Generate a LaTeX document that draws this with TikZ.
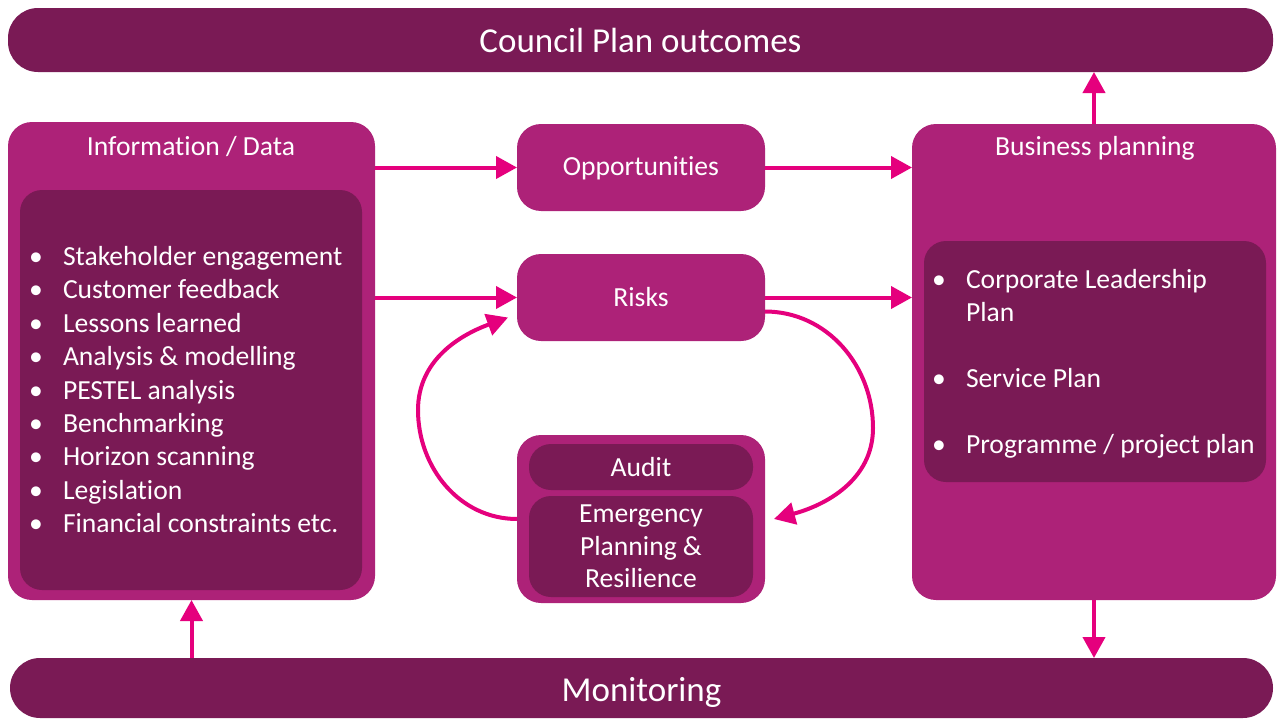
\documentclass[tikz,border=0pt]{standalone}
\usepackage{fontspec}
\setmainfont{Carlito}[Ligatures=NoCommon]
\usetikzlibrary{arrows.meta}
\definecolor{plumdark}{HTML}{7A1A55}
\definecolor{plummid}{HTML}{AD2278}
\definecolor{linkpink}{HTML}{E5007D}
\tikzset{
    every node/.style={align=center,text=white,inner sep=0pt,outer sep=0pt,},
    bar/.style={fill=plumdark,rectangle,rounded corners=30pt,anchor=north west,font=\fontsize{35}{40}\selectfont,},
    panel/.style={fill=plummid,rectangle,rounded corners=24pt,anchor=north west,},
    inset/.style={fill=plumdark,rectangle,rounded corners=22pt,anchor=north west,},
    body/.style={font=\fontsize{27.6}{32.7}\selectfont,},
    item/.style={body,anchor=west,text height=20pt,text depth=7pt,},
    link/.style={draw=linkpink,line width=4pt,-{Triangle[length=21pt,width=22pt]},},
}

\begin{document}
\begin{tikzpicture}[x=1pt,y=-1pt]
                \useasboundingbox (0,0) rectangle (1277,720);

                \node[bar,minimum width=1265pt,minimum height=64pt] (council) at (8,8) {Council Plan outcomes};
                \node[bar,minimum width=1263pt,minimum height=60pt,text height=27pt,text depth=0pt] (monitor) at (10,658) {Monitoring};

                % left panel
                \node[panel,minimum width=367pt,minimum height=478pt] (info) at (8,122) {};
                \node[inset,minimum width=342pt,minimum height=400pt] (infoin) at (20,190) {};
                \node[body] (infohead) at (191,147) {Information / Data};
                \foreach \txt [count=\i] in {Stakeholder engagement,Customer feedback,Lessons learned,Analysis \& modelling,PESTEL analysis,Benchmarking,Horizon scanning,Legislation,Financial constraints etc.}
                {
                    \node[item] (infobul\i) at (29,{259+33.4*(\i-1)}) {\textbullet};
                    \node[item] (infoitem\i) at (63,{259+33.4*(\i-1)}) {\txt};
                }

                % middle boxes
                \node[panel,body,minimum width=248pt,minimum height=87pt,text height=20pt,text depth=4pt] (opp) at (517,124) {Opportunities};
                \node[panel,body,minimum width=248pt,minimum height=87pt] (risks) at (517,254) {Risks};
                \node[panel,minimum width=248pt,minimum height=168pt] (auditgrp) at (517,435) {};
                \node[inset,body,minimum width=224pt,minimum height=46pt] (audit) at (529,444) {Audit};
                \node[inset,body,minimum width=224pt,minimum height=101pt] (ep) at (529,496) {Emergency\\Planning \&\\Resilience};

                % right panel
                \node[panel,minimum width=364pt,minimum height=476pt] (biz) at (912,124) {};
                \node[inset,minimum width=342pt,minimum height=241pt] (bizin) at (924,241) {};
                \node[body] (bizhead) at (1095,148) {Business planning};
                \node[item] (bizbul1) at (932,282) {\textbullet};
                \node[item] (bizitem1) at (966,282) {Corporate Leadership};
                \node[item] (bizitem1b) at (966,315) {Plan};
                \node[item] (bizbul2) at (932,381) {\textbullet};
                \node[item] (bizitem2) at (966,381) {Service Plan};
                \node[item] (bizbul3) at (932,447) {\textbullet};
                \node[item] (bizitem3) at (966,447) {Programme / project plan};

                \coordinate (rbend) at (873,428);
                \coordinate (lbend) at (418,410);

                \draw[link] (info.east |- opp.west) -- (opp.west);
                \draw[link] (info.east |- risks.west) -- (risks.west);
                \draw[link] (opp.east) -- (biz.west |- opp.east);
                \draw[link] (risks.east) -- (biz.west |- risks.east);
                \draw[link] (biz.north) -- (biz.north |- council.south);
                \draw[link] (biz.south) -- (biz.south |- monitor.north);
                \draw[link] (info.south |- monitor.north) -- (info.south);

                \draw[link] ([yshift=-14pt]risks.east) to[out=0,in=90] (rbend) to[out=-90,in=15] ([xshift=9pt]auditgrp.east);
                \draw[link] (auditgrp.west) to[out=180,in=-90] (lbend) to[out=90,in=200] ([xshift=-9pt,yshift=-20pt]risks.west);
\end{tikzpicture}
\end{document}
